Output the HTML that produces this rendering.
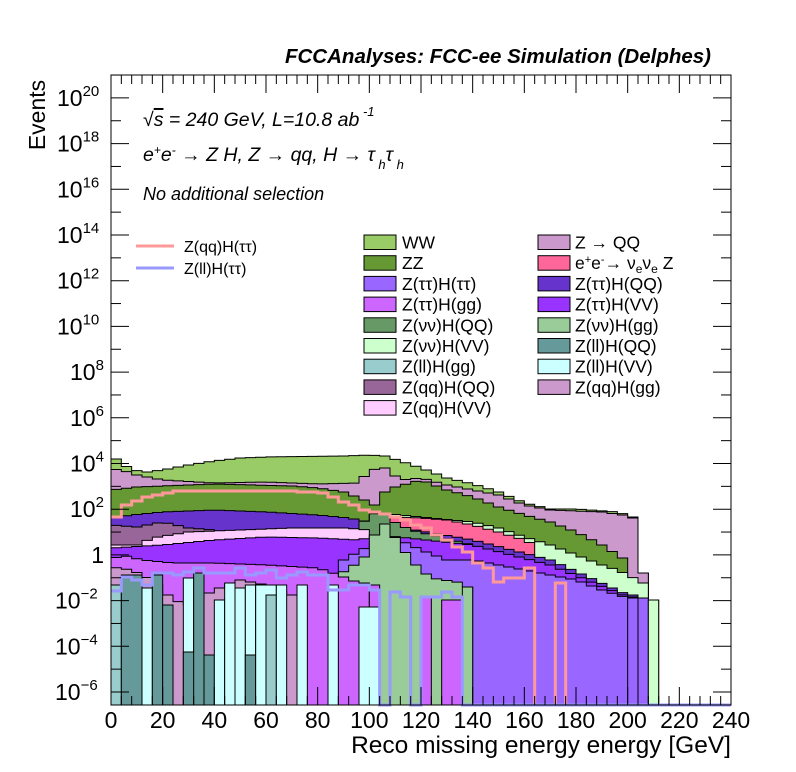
<!DOCTYPE html>
<html><head><meta charset="utf-8">
<style>
html,body{margin:0;padding:0;background:#fff;}
svg{display:block;font-family:"Liberation Sans",sans-serif;}
</style></head>
<body>
<svg id="s" width="796" height="772" viewBox="0 0 796 772" xmlns="http://www.w3.org/2000/svg">
<rect width="796" height="772" fill="#fff"/>
<g id="plot"></g>
<rect x="111" y="75" width="620" height="630" fill="none" stroke="#000" stroke-width="1"/>
<g id="ticks" stroke="#000" stroke-width="1"></g>
<text x="711" y="63" font-size="20.5" font-weight="bold" font-style="italic" text-anchor="end">FCCAnalyses: FCC-ee Simulation (Delphes)</text>
<text x="143" y="126" font-size="19.5" font-style="italic">√<tspan text-decoration="overline">s</tspan> = 240 GeV, L=10.8 ab<tspan dy="-10" font-size="13"> -1</tspan></text>
<text x="143" y="161" font-size="19.5" font-style="italic">e<tspan dy="-7" font-size="12">+</tspan><tspan dy="7">e</tspan><tspan dy="-7" font-size="12">-</tspan><tspan dy="7"> → Z H, Z  → qq, H  → τ</tspan><tspan dy="8" font-size="13"> h</tspan><tspan dy="-8">τ</tspan><tspan dy="8" font-size="13"> h</tspan></text>
<text x="143" y="200" font-size="18" font-style="italic">No additional selection</text>
<text transform="translate(45,115) rotate(-90)" font-size="23" text-anchor="middle">Events</text>
<text x="731" y="753" font-size="24.5" text-anchor="end">Reco missing energy energy [GeV]</text>
<g id="leg" font-size="17.5"></g>
</svg>
<script>
const NS="http://www.w3.org/2000/svg";
const X=g=>111+g*620/240;
const B=705;
const plot=document.getElementById('plot');
function el(parent,tag,attrs,text){const e=document.createElementNS(NS,tag);for(const k in attrs)e.setAttribute(k,attrs[k]);if(text!==undefined)e.textContent=text;parent.appendChild(e);return e;}
function interp(p,g){if(g<=p[0][0])return p[0][1];for(let i=1;i<p.length;i++){if(g<=p[i][0]){const a=p[i-1],b=p[i];return a[1]+(b[1]-a[1])*(g-a[0])/(b[0]-a[0]);}}return p[p.length-1][1];}
function layer(pts,color,g0,g1){let d=`M${X(g0)},${B}`;for(let g=g0;g<g1;g+=4){const y=interp(pts,g+2);d+=` L${X(g)},${y} L${X(g+4)},${y}`;}d+=` L${X(g1)},${B} Z`;el(plot,'path',{d:d,fill:color,stroke:'#000','stroke-width':1});}
function bar(g0,g1,y,c){el(plot,'rect',{x:X(g0),y:y,width:X(g1)-X(g0),height:B-y,fill:c,stroke:'#000','stroke-width':1});}
// WW total
layer([[0,455],[4,463],[8,470],[14,472],[20,470],[30,465],[40,461],[50,458],[60,457],[90,456],[100,455],[106,456],[112,461],[120,468],[130,478],[140,484],[150,492],[160,503],[170,509],[180,509],[196,512],[202,517],[206,573]],'#99cc66',0,208);
// Z->QQ
layer([[0,469],[4,470],[10,475],[20,480],[40,483],[60,482],[80,484],[96,483],[100,470],[106,468],[112,480],[120,478],[130,485],[140,490],[150,495],[160,505],[170,510],[190,512],[198,515],[202,518],[206,573]],'#cc99cc',0,208);
// ZZ
layer([[0,490],[10,487],[40,484],[70,486],[80,488],[90,492],[98,500],[102,505],[106,492],[110,487],[120,480],[130,490],[140,497],[150,507],[160,515],[170,522],[180,532],[190,545],[198,558]],'#669933',0,200);
// pale green right (Z(vv)H(VV))
layer([[100,512],[140,522],[150,528],[160,537],[170,545],[180,555],[190,565],[196,570],[200,575],[206,583],[210,600]],'#ccffcc',100,212);
// pink nu nu Z
layer([[100,515],[110,517],[120,518],[130,520],[140,525],[150,532],[160,540],[164,545],[170,560]],'#ff6699',100,164);
// Z(tt)H(QQ) dark purple
layer([[0,518],[8,515],[20,512],[40,510],[60,512],[80,515],[92,518],[100,522],[140,540],[170,560],[200,595]],'#6633cc',0,204);
// Z(vv)H(QQ)
layer([[96,525],[104,510],[108,520],[116,530],[124,535],[132,540],[140,545]],'#669966',96,140);
// Z(qq)H(QQ)
layer([[0,525],[10,527],[20,522],[30,528],[40,530]],'#996699',0,40);
// Z(qq)H(VV)
layer([[0,545],[10,545],[16,538],[30,532],[50,530],[70,528],[90,528],[100,530]],'#ffccff',0,100);
// Z(tt)H(VV)
layer([[0,548],[20,545],[40,540],[60,537],[80,538],[96,540],[104,535],[140,545],[170,565],[200,597]],'#9933ff',0,204);
// Z(tt)H(tt) violet
layer([[90,560],[104,540],[110,538],[120,550],[130,560],[140,560],[150,565],[160,570],[170,575],[180,580],[190,590],[200,598]],'#9966ff',88,208);
// Z(vv)H(gg)
layer([[88,575],[96,562],[100,552],[104,518],[108,530],[112,545],[116,560],[120,570],[124,578],[136,583],[138,587]],'#99cc99',88,140);
// magenta Z(tt)H(gg)
layer([[0,560],[4,555],[12,560],[24,563],[40,563],[60,565],[80,568],[88,575],[96,583]],'#cc66ff',0,100);
bar(100,104,585,'#cc66ff');bar(128,136,600,'#cc66ff');
// Z(qq)H(gg) bottom-left
layer([[0,567],[8,570],[16,580],[24,600],[30,605],[40,590],[50,580],[60,585],[70,595]],'#cc99cc',0,72);
// bottom bars
const bars=[[0,4,585,'#99cccc'],[4,12,575,'#669999'],[12,16,588,'#ccffff'],[16,20,575,'#669999'],[20,24,605,'#669999'],[28,32,578,'#ccffff'],[28,36,652,'#669999'],[32,36,573,'#669999'],[36,40,655,'#669999'],[40,44,600,'#ccffff'],[44,48,583,'#ccffff'],[48,52,588,'#ccffff'],[52,56,585,'#ccffff'],[52,56,655,'#669999'],[56,64,585,'#ccffff'],[60,64,595,'#99cccc'],[64,68,585,'#ccffff'],[72,76,585,'#ccffff'],[84,88,585,'#ccffff'],[96,104,607,'#ccffff'],[120,124,597,'#cc66ff'],[136,140,587,'#99cc99'],[200,204,598,'#9966ff'],[204,208,598,'#9966ff'],[208,212,600,'#ccffcc']];
bars.forEach(b=>bar(...b));
function line(pts,c){let d='';pts.forEach((p,i)=>{const x0=X(p[0]),x1=X(p[1]);d+=(i?' L':'M')+x0+','+p[2]+' L'+x1+','+p[2];});el(plot,'path',{d:d,fill:'none',stroke:c,'stroke-width':3});}
line([[0,4,517],[4,8,505],[8,12,501],[12,16,497],[16,20,495],[20,24,493],[24,72,491],[72,80,492],[80,84,493],[84,88,497],[88,92,502],[92,96,505],[96,100,510],[100,104,512],[104,108,514],[108,112,517],[112,116,520],[116,120,525],[120,124,528],[124,128,535],[128,132,540],[132,136,547],[136,140,552],[140,144,563],[144,148,568],[148,152,582],[152,156,578],[156,160,578],[160,164,568],[164,164,705],[164,172,705],[172,172,583],[172,176,583],[176,176,705],[176,240,705]],'#ff9999');
line([[0,4,591],[4,8,577],[8,12,580],[12,16,585],[16,24,573],[24,28,575],[28,32,572],[32,36,568],[36,48,573],[48,52,568],[52,56,575],[56,60,573],[60,64,570],[64,68,578],[68,72,575],[72,76,572],[76,84,575],[84,92,590],[92,100,585],[100,104,590],[104,108,705],[108,112,592],[112,116,597],[116,120,705],[120,128,597],[128,132,592],[132,136,597],[136,240,705]],'#9999ff');
// ticks
const t=document.getElementById('ticks');
for(let g=0;g<=240;g+=4){const L=g%20===0?18:9;const x=X(g);el(t,'line',{x1:x,y1:705,x2:x,y2:705-L});el(t,'line',{x1:x,y1:75,x2:x,y2:75+L});}
const Y=e=>692-(e+6)*22.85;
for(let e=-6;e<=21;e++){const y=Y(e);if(y<75||y>705)continue;const L=e%2===0?18:10;el(t,'line',{x1:111,y1:y,x2:111+L,y2:y});el(t,'line',{x1:731,y1:y,x2:731-L,y2:y});}
const s=document.getElementById('s');
for(let g=0;g<=240;g+=20){el(s,'text',{x:X(g),y:728,'font-size':23,'text-anchor':'middle'},String(g));}
for(let e=-6;e<=20;e+=2){const y=Y(e)+8;if(e===0){el(s,'text',{x:104,y:y,'font-size':23,'text-anchor':'end'},'1');continue;}const tx=el(s,'text',{x:e<0?55:(e>=10?57:70),y:y,'font-size':23},'10');el(tx,'tspan',{dy:-10,'font-size':15},String(e).replace('-','−'));}
// legend
const leg=document.getElementById('leg');
const c1=[['WW','#99cc66'],['ZZ','#669933'],['Z(ττ)H(ττ)','#9966ff'],['Z(ττ)H(gg)','#cc66ff'],['Z(νν)H(QQ)','#669966'],['Z(νν)H(VV)','#ccffcc'],['Z(ll)H(gg)','#99cccc'],['Z(qq)H(QQ)','#996699'],['Z(qq)H(VV)','#ffccff']];
const c2=[['Z → QQ','#cc99cc'],['NUZ','#ff6699'],['Z(ττ)H(QQ)','#6633cc'],['Z(ττ)H(VV)','#9933ff'],['Z(νν)H(gg)','#99cc99'],['Z(ll)H(QQ)','#669999'],['Z(ll)H(VV)','#ccffff'],['Z(qq)H(gg)','#cc99cc']];
function legcol(list,bx,tx){list.forEach((it,i)=>{const y=235+i*20.7;el(leg,'rect',{x:bx,y:y,width:32,height:14.5,fill:it[1],stroke:'#000','stroke-width':1});
if(it[0]==='NUZ'){const te=el(leg,'text',{x:tx,y:y+13.5},'e');el(te,'tspan',{dy:-6,'font-size':11},'+');el(te,'tspan',{dy:6},'e');el(te,'tspan',{dy:-6,'font-size':11},'-');el(te,'tspan',{dy:6},'→ ν');el(te,'tspan',{dy:4,'font-size':12},'e');el(te,'tspan',{dy:-4},'ν');el(te,'tspan',{dy:4,'font-size':12},'e');el(te,'tspan',{dy:-4},' Z');}
else el(leg,'text',{x:tx,y:y+13.5},it[0]);});}
legcol(c1,364,402);legcol(c2,538,575);
el(leg,'line',{x1:136,y1:246,x2:174,y2:246,stroke:'#ff9999','stroke-width':3});
el(leg,'line',{x1:136,y1:268,x2:174,y2:268,stroke:'#9999ff','stroke-width':3});
el(leg,'text',{x:184,y:252,'font-size':16},'Z(qq)H(ττ)');
el(leg,'text',{x:184,y:274,'font-size':16},'Z(ll)H(ττ)');
</script>
</body></html>
